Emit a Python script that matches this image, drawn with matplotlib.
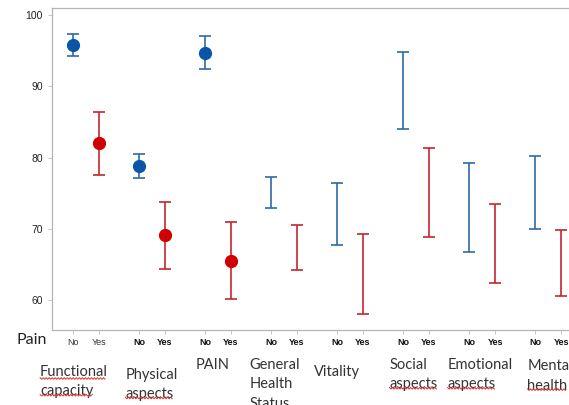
import numpy as np
import matplotlib
matplotlib.use("Agg")
import matplotlib.pyplot as plt
from matplotlib.lines import Line2D

# data (95% CI style intervals)
groups = ['Functional\ncapacity', 'Physical\naspects', 'PAIN', 'General\nHealth\nStatus',
          'Vitality', 'Social\naspects', 'Emotional\naspects', 'Mental\nhealth']
no_mean = [95.8, 78.8, 94.7, None, None, None, None, None]
no_low = [94.3, 77.1, 92.4, 72.9, 67.7, 84.0, 66.7, 70.0]
no_high = [97.4, 80.5, 97.1, 77.3, 76.4, 94.8, 79.2, 80.2]
yes_mean = [82.0, 69.1, 65.5, None, None, None, None, None]
yes_low = [77.5, 64.4, 60.1, 64.2, 58.0, 68.8, 62.4, 60.6]
yes_high = [86.4, 73.8, 70.9, 70.5, 69.3, 81.3, 73.5, 69.8]
tick_bold = [False, True, True, True, True, True, True, True]
yticks = [60, 70, 80, 90, 100]

# label layout (offsets in data units / points)
label_dx = [-0.50, -0.21, -0.14, -0.33, -0.35, -0.21, -0.33, -0.12]
label_dy = [-25, -27, -20, -20, -25, -20, -20, -21]
squiggle = {0: [0, 1], 1: [1], 5: [1], 6: [1], 7: [1]}

BLUE_DOT, BLUE_BAR = '#0B55A8', '#2F6BA3'
RED_DOT, RED_BAR = '#D00000', '#C3272D'
GAP = 0.39
LABEL_SIZE = 10.5

fig = plt.figure(figsize=(5.69, 4.05), dpi=100)
ax = fig.add_axes([52 / 569, 1 - 330 / 405, 523 / 569, 322 / 405])

x = np.arange(len(groups), dtype=float)
for i in range(len(groups)):
    for xi, lo, hi, m, cb, cd in [(x[i], no_low[i], no_high[i], no_mean[i], BLUE_BAR, BLUE_DOT),
                                  (x[i] + GAP, yes_low[i], yes_high[i], yes_mean[i], RED_BAR, RED_DOT)]:
        mid = (lo + hi) / 2
        ax.errorbar([xi], [mid], yerr=[[mid - lo], [hi - mid]], fmt='none', ecolor=cb,
                    elinewidth=1.2, capsize=4.3, capthick=1.2)
        if m is not None:
            ax.plot([xi], [m], 'o', color=cd, markersize=8.5, zorder=3)

ax.set_xlim(-0.32, 7.6)
ax.set_ylim(55.8, 101.0)
ax.set_yticks(yticks)
ax.set_yticklabels([str(t) for t in yticks], fontsize=7.5, family='Liberation Sans', color='#222222')
ticks = np.concatenate([[xi, xi + GAP] for xi in x])
ax.set_xticks(ticks)
ax.set_xticklabels([])
ax.tick_params(axis='both', length=3, width=0.6, color='#BBBBBB')
for s in ['left', 'bottom', 'top', 'right']:
    ax.spines[s].set_color('#B5B5B5')
    ax.spines[s].set_linewidth(0.9)

# No / Yes labels under each tick
for i, xi in enumerate(x):
    w = 'bold' if tick_bold[i] else 'normal'
    col = '#111111' if tick_bold[i] else '#333333'
    for xx, t in [(xi, 'No'), (xi + GAP, 'Yes')]:
        ax.annotate(t, xy=(xx, 0), xycoords=('data', 'axes fraction'), xytext=(0, -6),
                    textcoords='offset points', ha='center', va='top', fontsize=6.5,
                    fontweight=w, family='Liberation Sans', color=col, annotation_clip=False)

fig.text(16 / 569, 1 - 340 / 405, 'Pain', fontsize=11.5, family='Lato', va='center', ha='left',
         color='#222222')

labels = []
for i, g in enumerate(groups):
    t = ax.annotate(g, xy=(x[i] + label_dx[i], 0), xycoords=('data', 'axes fraction'),
                    xytext=(0, label_dy[i]), textcoords='offset points', ha='left', va='top',
                    fontsize=LABEL_SIZE, family='Lato', color='#333333', linespacing=1.5,
                    annotation_clip=False)
    labels.append(t)

# red spell-check squiggles under some words
fig.canvas.draw()
r = fig.canvas.get_renderer()
prop = matplotlib.font_manager.FontProperties(family='Lato')
for i, lines in squiggle.items():
    bb = labels[i].get_window_extent(r)
    nlines = groups[i].count('\n') + 1
    lh = bb.height / nlines
    for li in lines:
        word = groups[i].split('\n')[li]
        tp = matplotlib.textpath.TextPath((0, 0), word, size=LABEL_SIZE, prop=prop)
        wwidth = tp.get_extents().width * 100 / 72
        y0 = bb.y1 - lh * (li + 1) + 3
        xs = np.linspace(bb.x0, bb.x0 + wwidth, int(wwidth / 1.5) + 1)
        ys = y0 + 0.8 * np.where(np.arange(len(xs)) % 2 == 0, 1, -1)
        fig.add_artist(Line2D(xs / fig.bbox.width, ys / fig.bbox.height,
                              color='#E03030', linewidth=0.7, transform=fig.transFigure))

fig.savefig('out.png', dpi=100)
